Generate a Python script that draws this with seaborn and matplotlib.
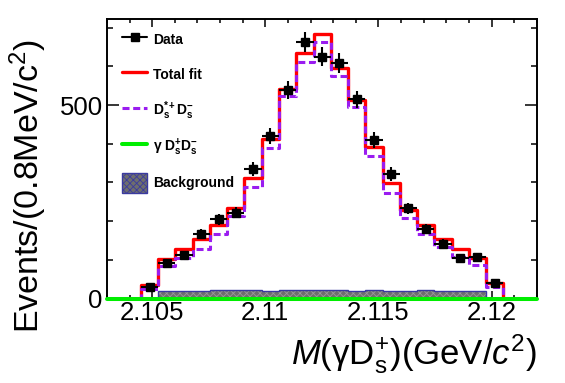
import numpy as np
import pandas as pd
import matplotlib
matplotlib.use("Agg")
import matplotlib.pyplot as plt
import seaborn as sns
from matplotlib.ticker import MultipleLocator, FuncFormatter
from matplotlib.lines import Line2D
from matplotlib.patches import Patch

# ---------------- data ----------------
first_edge = 2.1045
bin_width = 0.000763
x_range = [2.103, 2.122]

data_counts = [30, 92, 112, 168, 205, 222, 334, 420, 539, 664, 625,
               609, 515, 410, 322, 233, 180, 141, 106, 108, 40]
total_fit = [34, 103, 127, 153, 191, 234, 311, 413, 543, 636, 685,
             596, 513, 391, 298, 230, 191, 153, 127, 106, 39]
dsstar_ds = [25, 84, 106, 129, 168, 213, 289, 388, 523, 612, 663,
             575, 494, 368, 274, 207, 168, 134, 108, 86, 31]
gamma_ds_ds = [0] * 21
background = [0, 19, 20, 20, 21, 21, 21, 20, 21, 21, 22,
              21, 20, 21, 20, 20, 21, 20, 20, 19, 0]

legend_labels = ["Data", "Total fit", r"$\mathbf{D_s^{*+}D_s^{-}}$",
                 r"γ $\mathbf{D_s^{+}D_s^{-}}$", "Background"]

# ---------------- style ----------------
sns.set_style("ticks")
plt.rcParams["font.family"] = ["Liberation Sans", "DejaVu Sans"]
plt.rcParams["mathtext.fontset"] = "custom"
plt.rcParams["mathtext.rm"] = "Liberation Sans"
plt.rcParams["mathtext.it"] = "Liberation Sans:italic"
plt.rcParams["mathtext.bf"] = "Liberation Sans:bold"
plt.rcParams["hatch.linewidth"] = 0.6
for key in ["axes.edgecolor", "xtick.color", "ytick.color", "text.color",
            "axes.labelcolor"]:
    plt.rcParams[key] = "black"

n = len(data_counts)
edges = first_edge + bin_width * np.arange(n + 1)
centers = 0.5 * (edges[:-1] + edges[1:])


def step_frame(vals):
    x = np.concatenate([[x_range[0]], edges, [x_range[1]]])
    y = np.concatenate([[0], vals, [0, 0]])
    return pd.DataFrame({"x": x, "y": y})


fig = plt.figure(figsize=(5.65, 3.83), dpi=100)
ax = fig.add_axes([0.1894, 0.2206, 0.7606, 0.729])

# background (hatched)
ax.stairs(background, edges, fill=True, facecolor="#6e6e6e",
          edgecolor="#9a9a9a", hatch="xxxxx", linewidth=0, zorder=2.6)
ax.stairs(background, edges, fill=False, edgecolor="#3a3aa0",
          linewidth=1.0, zorder=2.7)

# fit curves
df_tot = step_frame(total_fit)
sns.lineplot(data=df_tot, x="x", y="y", ax=ax, color="#ff0000", lw=2.4,
             drawstyle="steps-post", estimator=None, sort=False, zorder=4)
df_ds = step_frame(dsstar_ds)
sns.lineplot(data=df_ds, x="x", y="y", ax=ax, color="#9a1cf0", lw=2.2,
             drawstyle="steps-post", estimator=None, sort=False, zorder=4.5,
             dashes=False, linestyle=(0, (2.3, 1.2)))
df_g = step_frame(gamma_ds_ds)
sns.lineplot(data=df_g, x="x", y="y", ax=ax, color="#00ee00", lw=2.9,
             drawstyle="steps-post", estimator=None, sort=False, zorder=5,
             clip_on=False)

# data points
ax.errorbar(centers, data_counts, xerr=bin_width / 2,
            yerr=np.sqrt(data_counts), fmt="s", color="black", ms=6.3,
            elinewidth=1.5, capsize=0, zorder=6)

ax.set_xlim(*x_range)
ax.set_ylim(0, 722)
ax.set_axisbelow(True)

ax.xaxis.set_major_locator(MultipleLocator(0.005))
ax.xaxis.set_minor_locator(MultipleLocator(0.001))
ax.yaxis.set_major_locator(MultipleLocator(500))
ax.yaxis.set_minor_locator(MultipleLocator(100))
ax.xaxis.set_major_formatter(FuncFormatter(lambda v, p: "%g" % round(v, 4)))
ax.yaxis.set_major_formatter(FuncFormatter(lambda v, p: "%d" % v))

ax.tick_params(axis="both", which="both", direction="in", top=True,
               right=True, width=1.1, labelsize=18.5, colors="black")
ax.tick_params(axis="x", which="major", length=5.8, pad=2)
ax.tick_params(axis="x", which="minor", length=2.9)
ax.tick_params(axis="y", which="major", length=8.6, pad=3)
ax.tick_params(axis="y", which="minor", length=4.3)
for sp in ax.spines.values():
    sp.set_linewidth(1.4)
    sp.set_color("black")
    sp.set_visible(True)

ax.set_xlabel(r"$M$(γD$_{\rm s}^{+}$)(GeV/$c^{2}$)", fontsize=25, loc="right")
ax.set_ylabel(r"Events/(0.8MeV/c$^{2}$)", fontsize=24.5, loc="top")
ax.yaxis.set_label_coords(-0.135, 0.93)
ax.xaxis.set_label_coords(1.0, -0.12)

handles = [
    Line2D([], [], color="black", marker="s", ms=6.3, lw=1.5),
    Line2D([], [], color="#ff0000", lw=2.4),
    Line2D([], [], color="#9a1cf0", lw=2.2, linestyle=(0, (2.3, 1.2))),
    Line2D([], [], color="#00ee00", lw=2.9),
    Patch(facecolor="#6e6e6e", edgecolor="#3a3aa0", hatch="xxxxx", lw=1.0),
]
ax.legend(handles, legend_labels, loc="upper left",
          bbox_to_anchor=(0.035, 0.962), frameon=False,
          prop={"weight": "bold", "size": 10}, handlelength=1.8,
          handleheight=1.8, handletextpad=0.45, labelspacing=1.08,
          borderpad=0, borderaxespad=0)

fig.savefig("out.png", dpi=100)
